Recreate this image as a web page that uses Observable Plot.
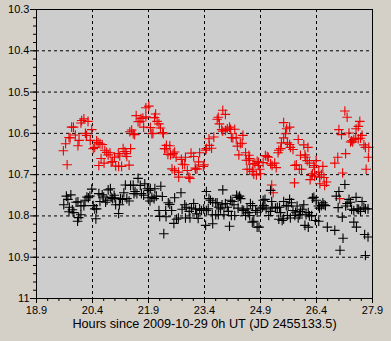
<!DOCTYPE html>
<html><head><meta charset="utf-8">
<script src="https://cdn.jsdelivr.net/npm/d3@7"></script>
<script src="https://cdn.jsdelivr.net/npm/@observablehq/plot@0.6"></script>
<style>html,body{margin:0;padding:0;background:#d4d0c8;}#chart{width:391px;height:341px;}</style>
</head><body><div id="chart"></div>
<script>
const redHours = [
19.62,19.68,19.72,19.77,19.80,19.84,19.89,19.94,20.01,20.04,
20.09,20.11,20.17,20.21,20.24,20.28,20.34,20.38,20.42,20.46,
20.51,20.55,20.57,20.60,20.63,20.66,20.71,20.73,20.78,20.82,
20.87,20.90,20.94,20.99,21.02,21.09,21.10,21.13,21.18,21.22,
21.27,21.30,21.32,21.38,21.42,21.40,21.45,21.49,21.53,21.57,
21.62,21.67,21.70,21.75,21.77,21.83,21.83,21.91,21.95,21.99,
22.02,22.06,22.09,22.13,22.18,22.22,22.28,22.30,22.33,22.37,
22.38,22.42,22.47,22.49,22.53,22.56,22.60,22.60,22.64,22.70,
22.71,22.78,22.81,22.87,22.89,22.94,22.98,23.01,23.04,23.11,
23.15,23.16,23.20,23.24,23.27,23.37,23.39,23.43,23.45,23.52,
23.53,23.59,23.65,23.74,23.77,23.80,23.86,23.89,23.89,23.96,
23.96,24.01,24.07,24.10,24.12,24.16,24.21,24.25,24.28,24.32,
24.36,24.41,24.43,24.50,24.52,24.54,24.59,24.59,24.61,24.61,
24.68,24.70,24.72,24.75,24.79,24.81,24.84,24.85,24.88,24.90,
24.97,25.03,25.08,25.11,25.17,25.21,25.20,25.24,25.28,25.32,
25.37,25.39,25.44,25.46,25.52,25.52,25.57,25.60,25.62,25.68,
25.68,25.70,25.77,25.81,25.82,25.86,25.91,25.94,26.00,25.97,
26.06,26.09,26.11,26.15,26.17,26.21,26.23,26.26,26.29,26.33,
26.35,26.35,26.39,26.46,26.48,26.49,26.53,26.57,26.60,26.62,
26.67,26.89,26.97,27.00,27.02,27.07,27.10,27.16,27.18,27.22,
27.27,27.31,27.34,27.37,27.40,27.45,27.46,27.52,27.52,27.56,
27.58,27.62,27.67,27.71,27.73,27.79,27.80];
const redMag = [
10.642,10.625,10.676,10.610,10.611,10.585,10.585,10.604,10.630,10.617,
10.575,10.569,10.565,10.600,10.605,10.571,10.617,10.591,10.637,10.634,
10.618,10.622,10.678,10.625,10.661,10.627,10.672,10.641,10.646,10.652,
10.647,10.670,10.668,10.658,10.679,10.649,10.680,10.655,10.680,10.637,
10.644,10.649,10.656,10.677,10.637,10.596,10.592,10.601,10.603,10.557,
10.572,10.571,10.564,10.563,10.585,10.560,10.538,10.534,10.586,10.601,
10.600,10.562,10.553,10.571,10.577,10.587,10.598,10.601,10.637,10.637,
10.629,10.651,10.630,10.652,10.686,10.649,10.645,10.690,10.658,10.694,
10.706,10.663,10.675,10.676,10.658,10.690,10.706,10.709,10.648,10.656,
10.684,10.687,10.686,10.669,10.647,10.680,10.676,10.641,10.637,10.613,
10.629,10.636,10.609,10.566,10.561,10.577,10.591,10.595,10.544,10.554,
10.593,10.589,10.585,10.590,10.610,10.611,10.590,10.611,10.631,10.652,
10.625,10.624,10.605,10.647,10.665,10.687,10.653,10.665,10.661,10.687,
10.692,10.675,10.699,10.673,10.701,10.668,10.678,10.670,10.687,10.698,
10.671,10.654,10.656,10.658,10.674,10.678,10.725,10.744,10.672,10.683,
10.647,10.641,10.637,10.623,10.611,10.574,10.601,10.589,10.623,10.585,
10.627,10.634,10.639,10.720,10.678,10.676,10.615,10.687,10.687,10.653,
10.628,10.652,10.658,10.666,10.634,10.672,10.712,10.702,10.698,10.678,
10.704,10.682,10.666,10.694,10.706,10.722,10.700,10.680,10.707,10.726,
10.718,10.672,10.658,10.591,10.758,10.603,10.696,10.546,10.649,10.561,
10.599,10.621,10.618,10.621,10.615,10.612,10.589,10.583,10.613,10.571,
10.612,10.605,10.628,10.634,10.687,10.658,10.634];
const blackHours = [
19.63,19.70,19.74,19.82,19.77,19.78,19.86,19.90,19.96,20.01,
20.00,20.03,20.09,20.09,20.17,20.20,20.25,20.29,20.33,20.38,
20.42,20.46,20.51,20.49,20.57,20.60,20.66,20.70,20.75,20.79,
20.82,20.88,20.90,20.94,20.98,21.00,21.02,21.10,21.12,21.15,
21.20,21.24,21.28,21.32,21.38,21.42,21.49,21.51,21.54,21.59,
21.62,21.68,21.71,21.77,21.80,21.87,21.91,21.95,21.89,21.94,
21.99,22.05,22.07,22.11,22.18,22.20,22.23,22.27,22.31,22.36,
22.37,22.43,22.47,22.52,22.58,22.60,22.65,22.70,22.77,22.80,
22.87,22.91,22.89,22.99,23.01,23.05,23.11,23.16,23.19,23.23,
23.27,23.32,23.38,23.43,23.45,23.45,23.50,23.52,23.56,23.61,
23.62,23.62,23.70,23.70,23.74,23.78,23.83,23.87,23.77,23.92,
23.89,23.96,24.01,24.04,24.07,24.10,24.14,24.19,24.12,24.21,
24.26,24.30,24.34,24.37,24.30,24.41,24.45,24.54,24.57,24.50,
24.61,24.63,24.69,24.68,24.72,24.81,24.86,24.77,24.81,24.90,
24.95,24.97,25.02,24.99,25.05,25.12,25.17,25.20,25.17,25.21,
25.30,25.35,25.41,25.39,25.48,25.52,25.44,25.52,25.59,25.64,
25.62,25.68,25.73,25.77,25.84,25.82,25.70,25.88,25.95,25.91,
25.97,26.02,26.06,26.12,26.18,26.21,26.27,26.09,26.18,26.29,
26.33,26.39,26.45,26.48,26.53,26.37,26.46,26.57,26.60,26.64,
26.69,26.89,26.93,27.00,26.98,27.09,27.16,27.18,27.22,27.27,
27.31,27.34,27.40,27.46,27.49,27.53,27.58,27.62,27.67,27.71,
27.78,27.40,27.47,27.11,27.03,27.69,27.78,27.71];
const blackMag = [
10.773,10.752,10.760,10.749,10.790,10.779,10.785,10.792,10.767,10.766,
10.813,10.804,10.797,10.776,10.775,10.762,10.754,10.756,10.752,10.735,
10.775,10.783,10.783,10.807,10.746,10.765,10.749,10.754,10.767,10.762,
10.737,10.734,10.755,10.758,10.750,10.756,10.773,10.794,10.773,10.758,
10.760,10.744,10.725,10.758,10.764,10.726,10.725,10.746,10.741,10.746,
10.709,10.726,10.746,10.750,10.722,10.734,10.738,10.734,10.756,10.764,
10.755,10.758,10.734,10.752,10.787,10.801,10.728,10.753,10.843,10.787,
10.802,10.768,10.772,10.787,10.818,10.756,10.808,10.805,10.744,10.784,
10.773,10.779,10.805,10.789,10.805,10.781,10.770,10.784,10.795,10.806,
10.783,10.787,10.783,10.823,10.787,10.741,10.783,10.758,10.762,10.797,
10.767,10.819,10.768,10.797,10.768,10.779,10.783,10.773,10.797,10.797,
10.737,10.770,10.779,10.789,10.825,10.762,10.765,10.773,10.799,10.799,
10.750,10.755,10.752,10.758,10.781,10.785,10.787,10.783,10.792,10.799,
10.799,10.770,10.775,10.815,10.813,10.827,10.827,10.787,10.791,10.783,
10.779,10.762,10.760,10.775,10.783,10.799,10.789,10.765,10.738,10.779,
10.781,10.779,10.779,10.808,10.811,10.807,10.792,10.765,10.775,10.776,
10.799,10.760,10.768,10.787,10.791,10.799,10.805,10.776,10.797,10.805,
10.789,10.784,10.773,10.797,10.792,10.800,10.799,10.823,10.827,10.757,
10.755,10.762,10.776,10.781,10.775,10.811,10.813,10.768,10.773,10.775,
10.827,10.835,10.752,10.741,10.780,10.803,10.724,10.776,10.770,10.760,
10.767,10.784,10.787,10.755,10.783,10.784,10.789,10.765,10.779,10.783,
10.783,10.815,10.827,10.854,10.883,10.845,10.851,10.896];

const xTicks = [18.9, 20.4, 21.9, 23.4, 24.9, 26.4, 27.9];
const xTickLabels = ["18.9", "20.4", "21.9", "23.4", "24.9", "26.4", "27.9"];
const yTicks = [10.3, 10.4, 10.5, 10.6, 10.7, 10.8, 10.9, 11];
const yTickLabels = ["10.3", "10.4", "10.5", "10.6", "10.7", "10.8", "10.9", "11"];
const xTitle = "Hours since 2009-10-29 0h UT (JD 2455133.5)";

const red = redHours.map((h, i) => ({h, m: redMag[i]}));
const black = blackHours.map((h, i) => ({h, m: blackMag[i]}));
const xMinor = d3.range(0, 31).map(i => 18.9 + i * 0.3);
const yMinor = d3.range(0, 36).map(i => 10.3 + i * 0.02);
const xLab = v => xTickLabels[xTicks.findIndex(t => Math.abs(t - v) < 1e-6)];
const yLab = v => yTickLabels[yTicks.findIndex(t => Math.abs(t - v) < 1e-6)];

const font = "'Liberation Sans', Arial, sans-serif";
const chart = Plot.plot({
  width: 391, height: 341,
  marginLeft: 36, marginRight: 19, marginTop: 9, marginBottom: 43,
  style: {background: "transparent", fontFamily: font, fontSize: "11px", color: "black"},
  x: {domain: [18.9, 27.9]},
  y: {domain: [10.3, 11], reverse: true},
  marks: [
    Plot.frame({fill: "#cdcdcd", stroke: null}),
    Plot.ruleX(xTicks.slice(1, -1), {stroke: "black", strokeDasharray: "3,3", strokeWidth: 1}),
    Plot.ruleY(yTicks.slice(1, -1), {stroke: "black", strokeDasharray: "3,3", strokeWidth: 1}),
    Plot.dot(red, {x: "h", y: "m", symbol: "plus", r: 3.2, stroke: "#ee0000", strokeWidth: 1.1}),
    Plot.dot(black, {x: "h", y: "m", symbol: "plus", r: 3.2, stroke: "black", strokeWidth: 1.1}),
    Plot.frame({stroke: "black", strokeWidth: 1}),
    Plot.axisY(yMinor, {tickSize: 3, text: null, label: null, stroke: "black"}),
    Plot.axisY(yTicks, {tickSize: 6, tickPadding: 1, tickFormat: yLab, label: null, stroke: "black", fontSize: 11}),
    Plot.axisX(xMinor, {tickSize: 3, text: null, label: null, stroke: "black"}),
    Plot.axisX(xTicks, {tickSize: 5, tickPadding: 3, tickFormat: xLab, label: null, stroke: "black", fontSize: 11}),
    Plot.text([xTitle], {frameAnchor: "bottom", dy: 29, text: d => d, fontSize: 12.7, fill: "black"})
  ]
});
document.getElementById("chart").appendChild(chart);
</script>
</body></html>
